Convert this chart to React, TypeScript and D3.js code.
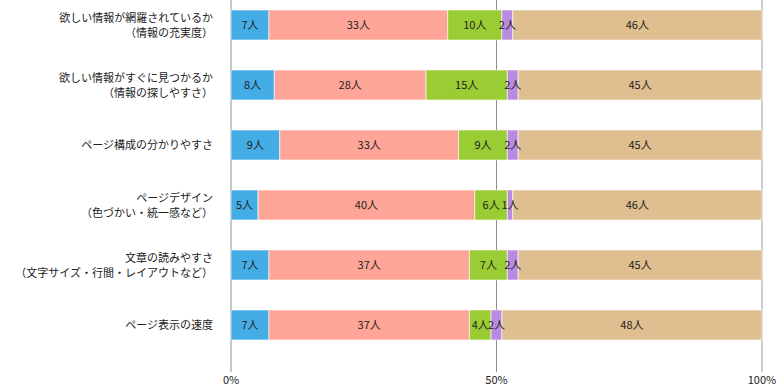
import * as d3 from "d3";

const categories = [
  ["欲しい情報が網羅されているか", "（情報の充実度）"],
  ["欲しい情報がすぐに見つかるか", "（情報の探しやすさ）"],
  ["ページ構成の分かりやすさ"],
  ["ページデザイン", "（色づかい・統一感など）"],
  ["文章の読みやすさ", "（文字サイズ・行間・レイアウトなど）"],
  ["ページ表示の速度"],
];

const series1 = [7, 8, 9, 5, 7, 7];
const series2 = [33, 28, 33, 40, 37, 37];
const series3 = [10, 15, 9, 6, 7, 4];
const series4 = [2, 2, 2, 1, 2, 2];
const series5 = [46, 45, 45, 46, 45, 48];

const colors = ["#45ade6", "#ffa597", "#9acd33", "#b98ae0", "#dfbe8f"];
const tickValues = [0, 0.5, 1];

const width = 777;
const height = 386;
const marginLeft = 231;
const marginRight = 15;
const font = "'Noto Sans CJK JP', sans-serif";

export default function App() {
  const allSeries = [series1, series2, series3, series4, series5];
  const rows = categories.map((_, i) => {
    const vals = allSeries.map((s) => s[i]);
    const total = d3.sum(vals);
    let acc = 0;
    return vals.map((v, k) => {
      const seg = { start: acc / total, end: (acc + v) / total, value: v, k };
      acc += v;
      return seg;
    });
  });

  const x = d3.scaleLinear().domain([0, 1]).range([marginLeft, width - marginRight]);
  const y = d3
    .scaleBand<number>()
    .domain(d3.range(categories.length))
    .range([-5, 355])
    .paddingInner(0.5)
    .paddingOuter(0.25);

  return (
    <svg
      width={width}
      height={height}
      style={{ position: "absolute", left: 0, top: 0 }}
      fontFamily={font}
    >
      {tickValues.map((t) => (
        <g key={t}>
          <line
            x1={x(t)}
            x2={x(t)}
            y1={0}
            y2={372}
            stroke={t === 1 ? "#bdbdbd" : "#8c8c8c"}
            strokeWidth={t === 1 ? 1.5 : 1}
          />
          <text x={x(t)} y={384} textAnchor="middle" fontSize={11} fill="#222">
            {d3.format(".0%")(t)}
          </text>
        </g>
      ))}
      {rows.map((segs, i) => (
        <g key={i}>
          {segs.map((s) => (
            <rect
              key={s.k}
              x={x(s.start)}
              y={y(i)}
              width={x(s.end) - x(s.start)}
              height={y.bandwidth()}
              fill={colors[s.k]}
              stroke="#ffffff"
              strokeOpacity={0.6}
              strokeWidth={1}
            />
          ))}
        </g>
      ))}
      {rows.map((segs, i) => (
        <g key={i}>
          {segs.map((s) => (
            <text
              key={s.k}
              x={(x(s.start) + x(s.end)) / 2}
              y={(y(i) as number) + y.bandwidth() / 2 + 4}
              textAnchor="middle"
              fontSize={11}
              fill="#222"
            >
              {s.value}人
            </text>
          ))}
          {categories[i].map((line, j) => (
            <text
              key={j}
              x={213}
              y={
                (y(i) as number) +
                y.bandwidth() / 2 +
                4 +
                (j - (categories[i].length - 1) / 2) * 15
              }
              textAnchor="end"
              fontSize={11}
              fill="#222"
            >
              {line}
            </text>
          ))}
        </g>
      ))}
    </svg>
  );
}
